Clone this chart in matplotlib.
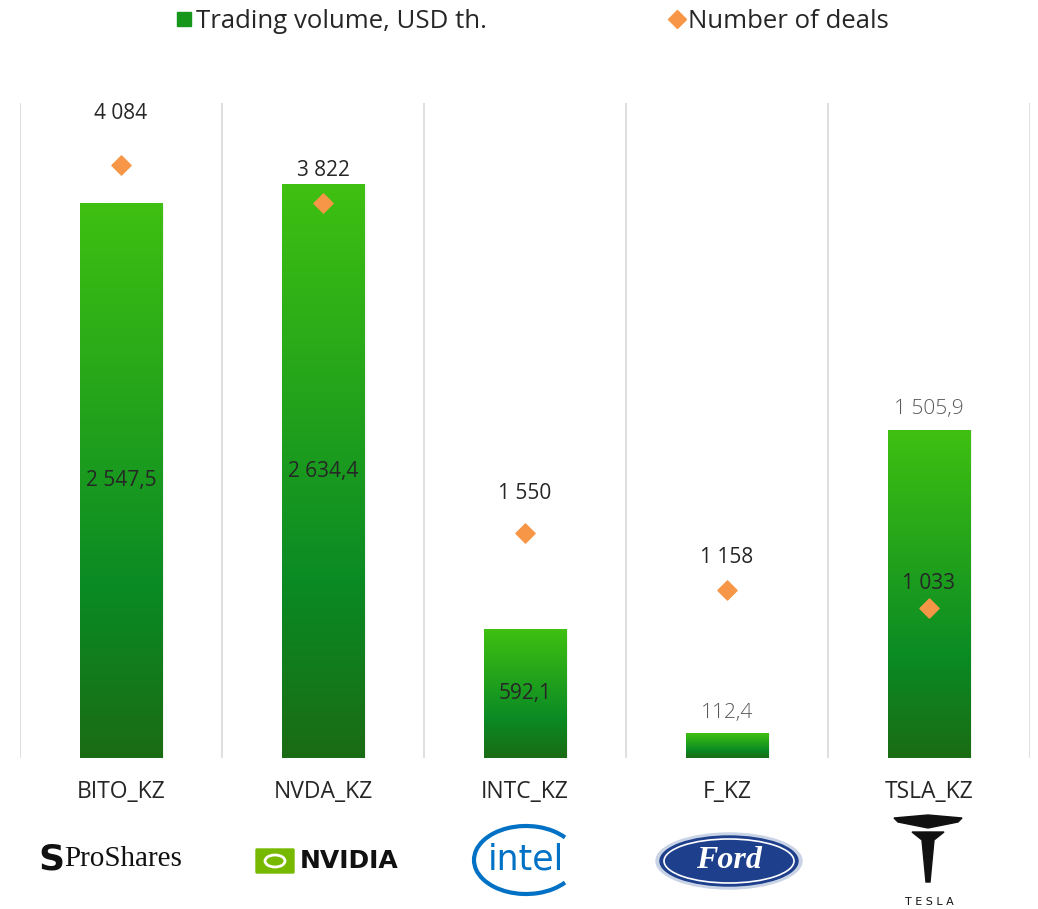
import matplotlib
matplotlib.use("Agg")
import matplotlib.pyplot as plt
import numpy as np
from matplotlib.colors import LinearSegmentedColormap
from matplotlib.lines import Line2D
from matplotlib.patches import Ellipse, Arc, FancyBboxPatch, Polygon

plt.rcParams["font.family"] = ["Open Sans", "DejaVu Sans"]

tickers = ["BITO_KZ", "NVDA_KZ", "INTC_KZ", "F_KZ", "TSLA_KZ"]
volume = [2547.5, 2634.4, 592.1, 112.4, 1505.9]
deals = [4084, 3822, 1550, 1158, 1033]
inside_label = [True, True, True, False, False]


def fmt(v, decimals):
    s = f"{v:,.{decimals}f}"
    return s.replace(",", " ").replace(".", ",")


W, H = 1038, 909
fig = plt.figure(figsize=(W / 100, H / 100), dpi=100)
ax = fig.add_axes([20 / W, 1 - 758 / H, 1010 / W, 655 / H])
ax2 = ax.twinx()

green = LinearSegmentedColormap.from_list(
    "g", [(0.0, "#1b6c14"), (0.3, "#0a8a24"), (1.0, "#3fc011")])
grad = np.linspace(0, 1, 256).reshape(-1, 1)

x = np.arange(len(tickers))
bw = 0.406
for xi, v, inside in zip(x, volume, inside_label):
    ax.bar(xi + 0.012, v, width=bw, color="#000000", alpha=0.05, zorder=1)
    ax.imshow(grad, extent=[xi - bw / 2, xi + bw / 2, 0, v], origin="lower",
              cmap=green, aspect="auto", zorder=2)
    if inside:
        ax.text(xi, v / 2, fmt(v, 1), ha="center", va="center", fontsize=15,
                color="#262626", zorder=3)
    else:
        ax.annotate(fmt(v, 1), (xi, v), xytext=(0, 21),
                    textcoords="offset pixels", ha="center", va="center",
                    fontsize=15, color="#595959", fontweight="light", zorder=3)

ax.set_xlim(-0.5, len(tickers) - 0.5)
ax.set_ylim(0, 3011)
ax2.set_ylim(0, 4513)

for b in np.arange(-0.5, len(tickers), 1.0):
    ax.axvline(b, color="#d9d9d9", lw=1.2, zorder=0)

ax2.scatter(x, deals, marker="D", s=95, color="#f79646", zorder=5)
label_off = [52, 33, 40, 32, 25]
for xi, d, off in zip(x, deals, label_off):
    ax2.annotate(fmt(d, 0), (xi, d), xytext=(0, off), textcoords="offset pixels",
                 ha="center", va="center", fontsize=15, color="#262626")

for a in (ax, ax2):
    for s in a.spines.values():
        s.set_visible(False)
    a.set_yticks([])
ax.set_xticks(x)
ax.set_xticklabels(tickers, fontsize=16.5, color="#262626")
ax.tick_params(axis="x", length=0, pad=16)

handles = [
    Line2D([], [], marker="s", ls="", color="#16961a", markersize=10),
    Line2D([], [], marker="D", ls="", color="#f79646", markersize=9),
]
fig.legend(handles, ["Trading volume, USD th.", "Number of deals"],
           loc="upper center", bbox_to_anchor=(0.512, 1.015), ncol=2,
           frameon=False, fontsize=18.5, handletextpad=0.05, columnspacing=7.0,
           handlelength=0.8, labelcolor="#262626")

# logo row (text stand-ins)
lg = fig.add_axes([0, 0, 1, 1], zorder=-1)
lg.set_xlim(0, W)
lg.set_ylim(H, 0)
lg.axis("off")

lg.text(38, 860, "S", fontsize=26, fontweight="bold", color="#111111",
        ha="left", va="center", family="DejaVu Sans")
lg.text(64, 859, "ProShares", fontsize=21, color="#111111", ha="left",
        va="center", family="Liberation Serif")

lg.add_patch(FancyBboxPatch((257, 850), 36, 22, boxstyle="round,pad=1",
                            color="#76b900"))
lg.add_patch(Ellipse((275, 861), 20, 12, fill=False, ec="white", lw=2))
lg.text(300, 861, "NVIDIA", fontsize=18, fontweight="heavy", color="#111111",
        ha="left", va="center", family="DejaVu Sans")

lg.add_patch(Arc((526, 860), 104, 68, theta1=30, theta2=330, color="#0071c5",
                 lw=3))
lg.text(526, 860, "intel", fontsize=25, color="#0071c5", ha="center",
        va="center", family="DejaVu Sans")

lg.add_patch(Ellipse((729, 861), 146, 56, color="#c9d3e6"))
lg.add_patch(Ellipse((729, 861), 138, 50, color="#1d3f8c"))
lg.add_patch(Ellipse((729, 861), 130, 44, fill=False, ec="white", lw=1.2))
lg.text(729, 861, "Ford", fontsize=23, style="italic", fontweight="bold",
        color="white", ha="center", va="center", family="Liberation Serif")

lg.add_patch(Polygon([(898, 822), (928, 828), (958, 822), (962, 818),
                      (928, 815), (894, 818)], color="#111111"))
lg.add_patch(Polygon([(912, 832), (944, 832), (934, 840), (930, 882),
                      (926, 882), (922, 840)], color="#111111"))
lg.text(929, 902, "T E S L A", fontsize=8, color="#111111", ha="center",
        va="center", family="DejaVu Sans")

fig.savefig("out.png", dpi=100)
